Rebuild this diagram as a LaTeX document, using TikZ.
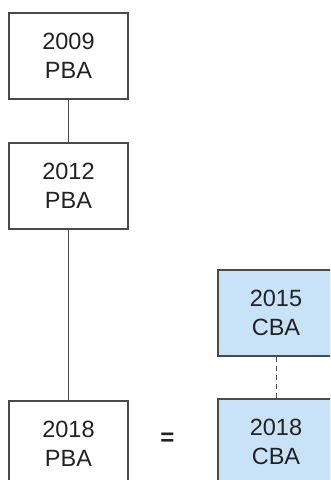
\documentclass[tikz,border=0pt]{standalone}
\usepackage{fontspec}
\setmainfont{Liberation Sans}
\definecolor{boxline}{HTML}{4A4A4A}
\definecolor{cbafill}{HTML}{C8E3F8}
\definecolor{txt}{HTML}{222222}
\begin{document}
\begin{tikzpicture}[x=1pt,y=-1pt,
  yearbox/.style={draw=boxline,line width=1.4pt,minimum width=119pt,minimum height=86pt,
    inner sep=0pt,align=center,text=txt,font=\fontsize{23.5}{29}\selectfont},
  cbabox/.style={yearbox,fill=cbafill,minimum width=116pt},
  link/.style={draw=boxline,line width=1pt}]
\useasboundingbox (0,0) rectangle (330,480);
\clip (0,0) rectangle (330,480);
\node[yearbox] (p09) at (68.5,56) {2009\\PBA};
\node[yearbox] (p12) at (68.5,186) {2012\\PBA};
\node[yearbox] (p18) at (68.5,444) {2018\\PBA};
\node[cbabox] (c15) at (276,313) {2015\\CBA};
\node[cbabox] (c18) at (276,442) {2018\\CBA};
\node[text=txt,font=\bfseries\fontsize{24}{29}\selectfont] (eq) at (167.5,439) {=};
\draw[link] (p09.south) -- (p12.north);
\draw[link] (p12.south) -- (p18.north);
\draw[link,dash pattern=on 5pt off 4pt] (c15.south) -- (c18.north);
\end{tikzpicture}
\end{document}
